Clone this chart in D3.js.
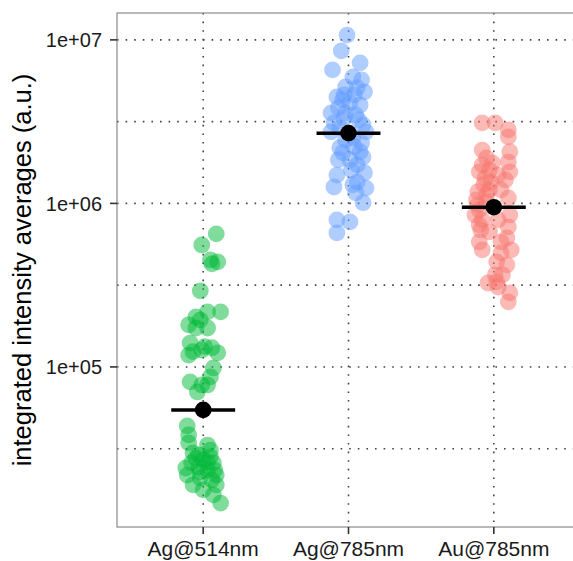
<!DOCTYPE html>
<meta charset="utf-8">
<head>
<title>intensity averages</title>
<script src="https://cdn.jsdelivr.net/npm/d3@7"></script>
<style>
  body { margin: 0; background: #fff; }
  text { font-family: "Liberation Sans", Arial, sans-serif; }
</style>
</head>
<body>
<div id="chart"></div>
<script>

const width = 573;
const height = 561;

const categories = ["Ag@514nm", "Ag@785nm", "Au@785nm"];
const colors = ["#00BA38", "#619CFF", "#F8766D"];

// values, jitter is the horizontal offset in category steps
const ag514Values = [6.51e5, 5.57e5, 4.51e5, 4.39e5, 4.27e5, 2.92e5, 2.17e5, 2.17e5, 2.02e5, 1.94e5,
  1.81e5, 1.73e5, 1.73e5, 1.40e5, 1.33e5, 1.31e5, 1.27e5, 1.24e5, 1.22e5, 1.18e5,
  9.86e4, 8.69e4, 8.10e4, 7.76e4, 7.76e4, 7.03e4, 4.36e4, 3.84e4, 3.43e4, 3.33e4,
  3.10e4, 2.98e4, 2.90e4, 2.82e4, 2.77e4, 2.70e4, 2.62e4, 2.59e4, 2.59e4, 2.44e4,
  2.41e4, 2.34e4, 2.34e4, 2.28e4, 2.18e4, 2.18e4, 2.09e4, 2.04e4, 1.90e4, 1.90e4,
  1.77e4, 1.65e4, 1.47e4];
const ag514Jitter = [0.09, -0.01, 0.05, 0.10, 0.06, -0.02, 0.12, 0.03, -0.05, -0.02,
  -0.10, -0.05, 0.03, -0.09, 0.01, 0.06, -0.01, -0.07, 0.10, -0.10,
  0.07, 0.05, -0.09, 0.03, -0.01, -0.04, -0.11, -0.10, -0.10, 0.03,
  0.05, -0.07, -0.03, 0.05, -0.05, 0.00, 0.03, -0.08, 0.07, -0.03,
  -0.12, 0.03, 0.08, -0.02, 0.09, -0.11, -0.02, 0.06, -0.07, 0.09,
  0.00, 0.07, 0.12];

const ag785Values = [1.07e7, 8.57e6, 7.23e6, 6.55e6, 5.94e6, 5.69e6, 5.16e6, 5.09e6, 4.81e6, 4.48e6,
  4.61e6, 4.61e6, 4.30e6, 4.12e6, 4.00e6, 3.84e6, 3.58e6, 3.58e6, 3.48e6, 3.33e6,
  3.24e6, 3.11e6, 3.02e6, 2.90e6, 2.74e6, 2.74e6, 2.52e6, 2.44e6, 2.34e6, 2.22e6,
  2.19e6, 2.07e6, 2.04e6, 1.92e6, 1.85e6, 1.85e6, 1.72e6, 1.60e6, 1.54e6, 1.49e6,
  1.35e6, 1.26e6, 1.30e6, 1.24e6, 1.16e6, 1.01e6, 7.93e5, 7.71e5, 6.60e5];
const ag785Jitter = [-0.01, -0.05, 0.08, -0.11, 0.03, 0.09, -0.02, 0.06, 0.11, -0.08,
  0.04, -0.03, -0.04, 0.01, 0.08, -0.07, -0.12, -0.02, 0.05, -0.03,
  0.07, -0.10, 0.10, -0.06, 0.12, -0.12, 0.03, -0.02, 0.09, 0.04,
  -0.06, 0.08, -0.04, 0.10, 0.01, -0.07, 0.06, 0.02, 0.11, -0.08,
  0.06, -0.10, 0.03, 0.12, 0.05, 0.10, -0.08, 0.01, -0.08];

const au785Values = [3.11e6, 3.11e6, 2.82e6, 2.55e6, 2.12e6, 2.07e6, 1.90e6, 1.79e6, 1.77e6, 1.72e6,
  1.56e6, 1.60e6, 1.56e6, 1.49e6, 1.43e6, 1.39e6, 1.35e6, 1.30e6, 1.21e6, 1.21e6,
  1.18e6, 1.13e6, 1.08e6, 1.05e6, 1.02e6, 9.80e5, 9.12e5, 8.50e5, 8.50e5, 7.93e5,
  7.93e5, 7.39e5, 7.18e5, 6.88e5, 6.70e5, 6.15e5, 5.81e5, 5.81e5, 5.20e5, 5.20e5,
  4.98e5, 4.39e5, 4.21e5, 3.66e5, 3.66e5, 3.31e5, 3.26e5, 3.08e5, 2.84e5, 2.50e5];
const au785Jitter = [-0.08, 0.01, 0.10, 0.10, -0.08, 0.11, -0.05, 0.10, -0.01, -0.08,
  -0.10, -0.03, 0.11, 0.03, -0.06, 0.08, -0.02, -0.07, -0.03, 0.05,
  -0.11, -0.05, 0.10, -0.12, -0.05, -0.11, -0.10, 0.11, -0.13, -0.08,
  0.03, -0.10, 0.10, -0.09, -0.03, 0.09, 0.05, -0.10, -0.08, 0.12,
  0.05, 0.02, 0.09, 0.01, 0.06, 0.02, -0.04, 0.03, 0.11, 0.10];

const means = [5.46e4, 2.69e6, 9.48e5];

const yTicks = [1e5, 1e6, 1e7];
const yMinor = [Math.sqrt(1e4 * 1e5), Math.sqrt(1e5 * 1e6), Math.sqrt(1e6 * 1e7)];
const yTickLabels = ["1e+05", "1e+06", "1e+07"];
const yTitle = "integrated intensity averages (a.u.)";

const groups = [
  { values: ag514Values, jitter: ag514Jitter },
  { values: ag785Values, jitter: ag785Jitter },
  { values: au785Values, jitter: au785Jitter }
];

const panel = { left: 117, right: 581, top: 13, bottom: 527 };

const svg = d3.select("#chart")
  .append("svg")
  .attr("width", width)
  .attr("height", height)
  .attr("viewBox", [0, 0, width, height]);

const x = d3.scalePoint()
  .domain(categories)
  .range([panel.left - 1, panel.right])
  .padding(0.6);

const y = d3.scaleLog()
  .domain([1.05e4, 1.46e7])
  .range([panel.bottom, panel.top]);

const step = x.step();

// grid lines
const grid = svg.append("g")
  .attr("stroke", "#444")
  .attr("stroke-width", 1.6)
  .attr("stroke-dasharray", "1.6 7");

grid.selectAll("line.h")
  .data(yTicks.concat(yMinor))
  .join("line")
    .attr("class", "h")
    .attr("x1", panel.left)
    .attr("x2", panel.right)
    .attr("y1", d => y(d))
    .attr("y2", d => y(d));

grid.selectAll("line.v")
  .data(categories)
  .join("line")
    .attr("class", "v")
    .attr("x1", d => x(d))
    .attr("x2", d => x(d))
    .attr("y1", panel.top)
    .attr("y2", panel.bottom);

// jittered points
const pts = [];
groups.forEach((g, i) => {
  g.values.forEach((v, j) => pts.push({ cat: categories[i], color: colors[i], value: v, jit: g.jitter[j] }));
});

svg.append("g")
  .selectAll("circle")
  .data(pts)
  .join("circle")
    .attr("cx", d => x(d.cat) + d.jit * step)
    .attr("cy", d => y(d.value))
    .attr("r", 8.4)
    .attr("fill", d => d.color)
    .attr("fill-opacity", 0.5);

// mean bars and points
const meanG = svg.append("g");
meanG.selectAll("line")
  .data(categories)
  .join("line")
    .attr("x1", (d, i) => x(d) - 0.22 * step)
    .attr("x2", (d, i) => x(d) + 0.22 * step)
    .attr("y1", (d, i) => y(means[i]))
    .attr("y2", (d, i) => y(means[i]))
    .attr("stroke", "#000")
    .attr("stroke-width", 3.5);

meanG.selectAll("circle")
  .data(categories)
  .join("circle")
    .attr("cx", d => x(d))
    .attr("cy", (d, i) => y(means[i]))
    .attr("r", 8.3)
    .attr("fill", "#000");

// panel border
svg.append("rect")
  .attr("x", panel.left)
  .attr("y", panel.top)
  .attr("width", panel.right - panel.left)
  .attr("height", panel.bottom - panel.top)
  .attr("fill", "none")
  .attr("stroke", "#8a8a8a")
  .attr("stroke-width", 1.2);

// y axis
const yAxis = svg.append("g");
yAxis.selectAll("line")
  .data(yTicks)
  .join("line")
    .attr("x1", panel.left - 7)
    .attr("x2", panel.left)
    .attr("y1", d => y(d))
    .attr("y2", d => y(d))
    .attr("stroke", "#333")
    .attr("stroke-width", 1.6);

yAxis.selectAll("text")
  .data(yTicks)
  .join("text")
    .attr("x", panel.left - 15)
    .attr("y", d => y(d))
    .attr("dy", "0.36em")
    .attr("text-anchor", "end")
    .attr("font-size", 20)
    .attr("fill", "#1a1a1a")
    .text((d, i) => yTickLabels[i]);

// x axis
const xAxis = svg.append("g");
xAxis.selectAll("line")
  .data(categories)
  .join("line")
    .attr("x1", d => x(d))
    .attr("x2", d => x(d))
    .attr("y1", panel.bottom)
    .attr("y2", panel.bottom + 7)
    .attr("stroke", "#333")
    .attr("stroke-width", 1.6);

xAxis.selectAll("text")
  .data(categories)
  .join("text")
    .attr("x", d => x(d))
    .attr("y", 556)
    .attr("text-anchor", "middle")
    .attr("font-size", 21)
    .attr("fill", "#1a1a1a")
    .text(d => d);

svg.append("text")
  .attr("transform", `translate(31, ${(panel.top + panel.bottom) / 2}) rotate(-90)`)
  .attr("text-anchor", "middle")
  .attr("font-size", 25.5)
  .attr("fill", "#000")
  .text(yTitle);

</script>
</body>
